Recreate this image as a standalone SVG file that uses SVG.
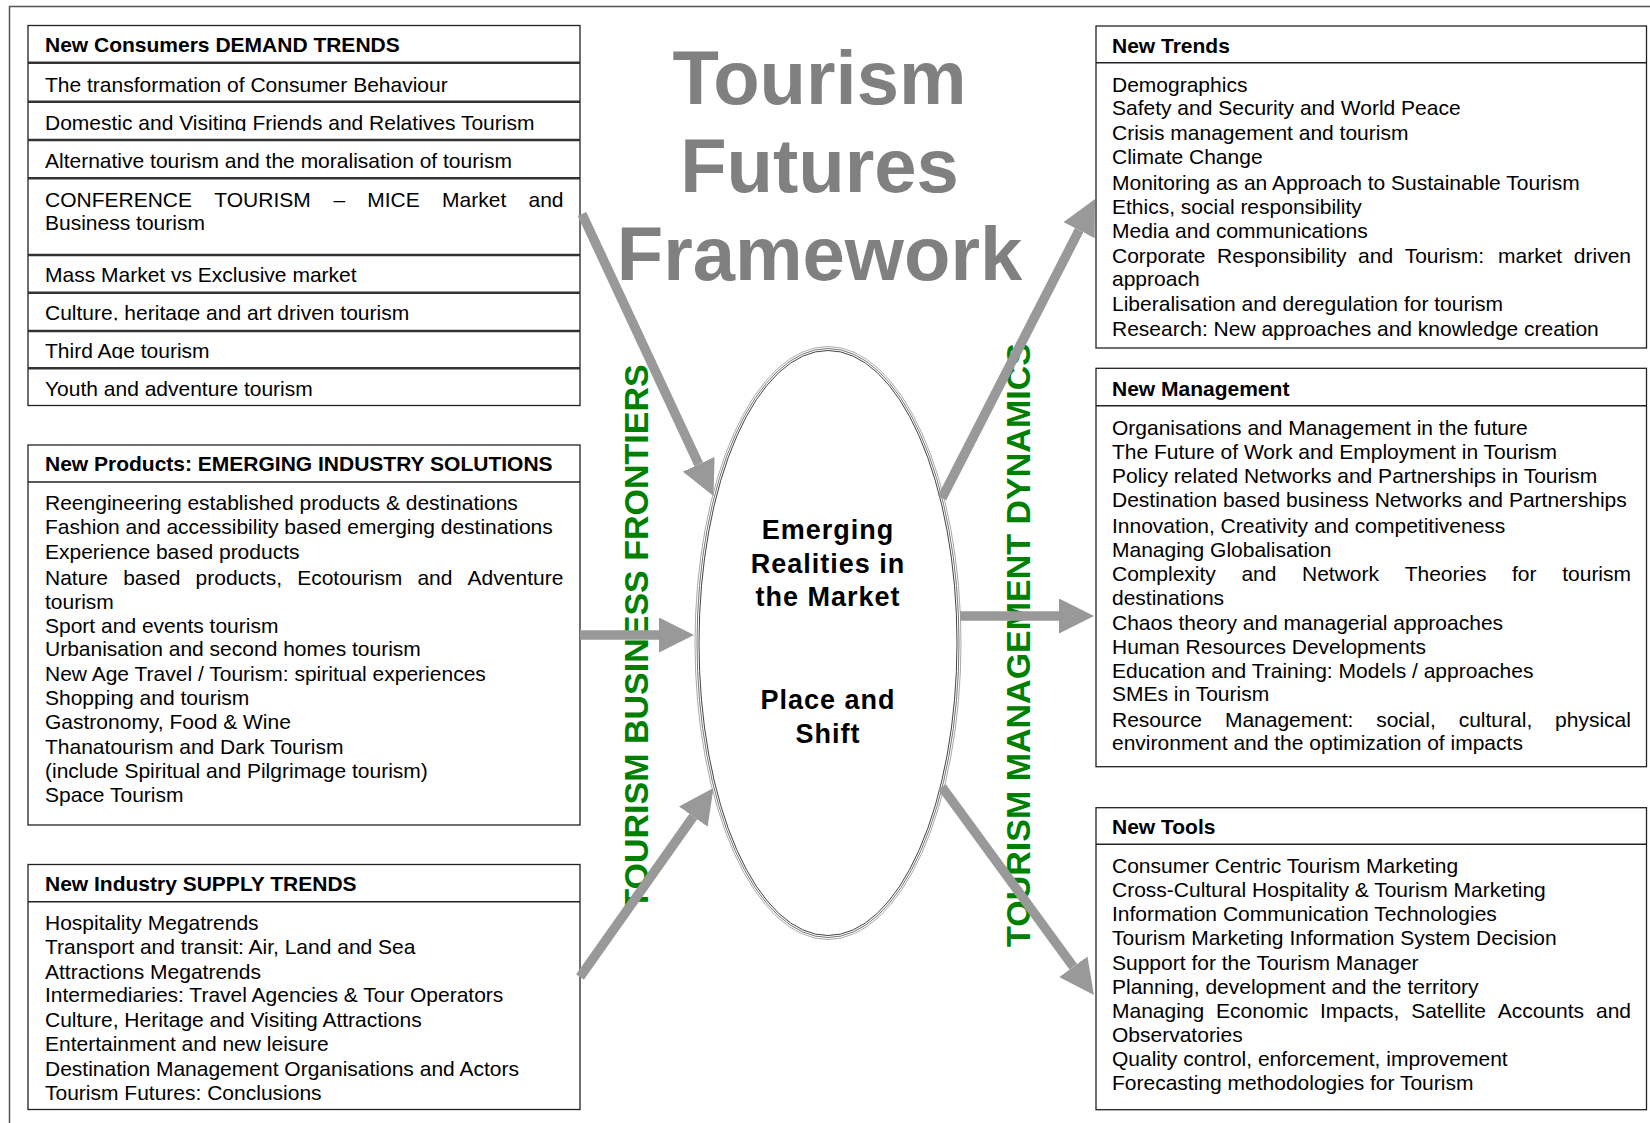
<svg xmlns="http://www.w3.org/2000/svg" width="1650" height="1123" viewBox="0 0 1650 1123">
<style>
.box{fill:#fff;stroke:#222;stroke-width:1.3}
.sep{stroke:#222;stroke-width:1.5}
.sep2{stroke:#333;stroke-width:2.4}
.hd{font-family:"Liberation Sans",Arial,sans-serif;font-weight:bold;font-size:21px;fill:#000}
.tx{font-family:"Liberation Sans",Arial,sans-serif;font-size:21px;fill:#000}
.title{font-family:"Liberation Sans",Arial,sans-serif;font-weight:bold;font-size:76px;fill:#808080;text-anchor:middle}
.green{font-family:"Liberation Sans",Arial,sans-serif;font-weight:bold;font-size:34px;fill:#008000;text-anchor:middle}
.core{font-family:"Liberation Sans",Arial,sans-serif;font-weight:bold;font-size:27px;letter-spacing:1px;fill:#000;text-anchor:middle}
.arr{stroke:#999;stroke-width:9.5;fill:none}
</style>
<defs>
<marker id="ah" markerUnits="userSpaceOnUse" markerWidth="35" markerHeight="35" viewBox="0 0 35 35" refX="0" refY="17.5" orient="auto">
<path d="M0,0 L35,17.5 L0,35 z" fill="#999"/>
</marker>
<clipPath id="c2"><rect x="28" y="102" width="552" height="29"/></clipPath>
<clipPath id="c6"><rect x="28" y="293" width="552" height="27.5"/></clipPath>
<clipPath id="c7"><rect x="28" y="331" width="552" height="27.8"/></clipPath>
</defs>
<rect x="0" y="0" width="1650" height="1123" fill="#fff"/>
<rect x="9.5" y="6.5" width="1700" height="1200" fill="none" stroke="#555" stroke-width="1.5"/>

<g id="title">
<text class="title" x="819.5" y="104">Tourism</text>
<text class="title" x="819.5" y="192">Futures</text>
<text class="title" x="819.5" y="280">Framework</text>
</g>

<g id="demand">
<rect class="box" x="28" y="25.5" width="552" height="380"/>
<line class="sep2" x1="28" y1="62.7" x2="580" y2="62.7"/>
<line class="sep2" x1="28" y1="101.7" x2="580" y2="101.7"/>
<line class="sep2" x1="28" y1="140" x2="580" y2="140"/>
<line class="sep2" x1="28" y1="178.3" x2="580" y2="178.3"/>
<line class="sep2" x1="28" y1="255" x2="580" y2="255"/>
<line class="sep2" x1="28" y1="292.7" x2="580" y2="292.7"/>
<line class="sep2" x1="28" y1="331" x2="580" y2="331"/>
<line class="sep2" x1="28" y1="368.3" x2="580" y2="368.3"/>
<text class="hd" x="45" y="52">New Consumers DEMAND TRENDS</text>
<text class="tx" x="45" y="91.5">The transformation of Consumer Behaviour</text>
<text class="tx" x="45" y="130" clip-path="url(#c2)">Domestic and Visiting Friends and Relatives Tourism</text>
<text class="tx" x="45" y="168.3">Alternative tourism and the moralisation of tourism</text>
<text class="tx" y="206.5"><tspan x="45">CONFERENCE</tspan><tspan x="214.3">TOURISM</tspan><tspan x="333.4">–</tspan><tspan x="367.3">MICE</tspan><tspan x="442.1">Market</tspan><tspan x="528.5">and</tspan></text>
<text class="tx" x="45" y="230">Business tourism</text>
<text class="tx" x="45" y="281.7">Mass Market vs Exclusive market</text>
<text class="tx" x="45" y="320" clip-path="url(#c6)">Culture, heritage and art driven tourism</text>
<text class="tx" x="45" y="357.5" clip-path="url(#c7)">Third Age tourism</text>
<text class="tx" x="45" y="396">Youth and adventure tourism</text>
</g>

<g id="products">
<rect class="box" x="28" y="445" width="552" height="380"/>
<line class="sep" x1="28" y1="482" x2="580" y2="482"/>
<text class="hd" x="45" y="470.5">New Products: EMERGING INDUSTRY SOLUTIONS</text>
<text class="tx" x="45" y="510.3">Reengineering established products &amp; destinations</text>
<text class="tx" x="45" y="534.3">Fashion and accessibility based emerging destinations</text>
<text class="tx" x="45" y="558.7">Experience based products</text>
<text class="tx" y="584.7"><tspan x="45">Nature</tspan><tspan x="123.2">based</tspan><tspan x="195.6">products,</tspan><tspan x="297.2">Ecotourism</tspan><tspan x="417.4">and</tspan><tspan x="467.6">Adventure</tspan></text>
<text class="tx" x="45" y="608.7">tourism</text>
<text class="tx" x="45" y="632.7">Sport and events tourism</text>
<text class="tx" x="45" y="656.3">Urbanisation and second homes tourism</text>
<text class="tx" x="45" y="681">New Age Travel / Tourism: spiritual experiences</text>
<text class="tx" x="45" y="704.7">Shopping and tourism</text>
<text class="tx" x="45" y="729.3">Gastronomy, Food &amp; Wine</text>
<text class="tx" x="45" y="754.3">Thanatourism and Dark Tourism</text>
<text class="tx" x="45" y="777.7">(include Spiritual and Pilgrimage tourism)</text>
<text class="tx" x="45" y="802">Space Tourism</text>
</g>

<g id="supply">
<rect class="box" x="28" y="864.5" width="552" height="245"/>
<line class="sep" x1="28" y1="901.7" x2="580" y2="901.7"/>
<text class="hd" x="45" y="890.8">New Industry SUPPLY TRENDS</text>
<text class="tx" x="45" y="929.7">Hospitality Megatrends</text>
<text class="tx" x="45" y="953.7">Transport and transit: Air, Land and Sea</text>
<text class="tx" x="45" y="978.7">Attractions Megatrends</text>
<text class="tx" x="45" y="1002">Intermediaries: Travel Agencies &amp; Tour Operators</text>
<text class="tx" x="45" y="1027">Culture, Heritage and Visiting Attractions</text>
<text class="tx" x="45" y="1051">Entertainment and new leisure</text>
<text class="tx" x="45" y="1076.3">Destination Management Organisations and Actors</text>
<text class="tx" x="45" y="1100.3">Tourism Futures: Conclusions</text>
</g>

<g id="trends">
<rect class="box" x="1096" y="26" width="550.5" height="322"/>
<line class="sep" x1="1096" y1="62.7" x2="1646.5" y2="62.7"/>
<text class="hd" x="1112" y="52.5">New Trends</text>
<text class="tx" x="1112" y="92">Demographics</text>
<text class="tx" x="1112" y="115.3">Safety and Security and World Peace</text>
<text class="tx" x="1112" y="139.7">Crisis management and tourism</text>
<text class="tx" x="1112" y="163.7">Climate Change</text>
<text class="tx" x="1112" y="189.7">Monitoring as an Approach to Sustainable Tourism</text>
<text class="tx" x="1112" y="213.7">Ethics, social responsibility</text>
<text class="tx" x="1112" y="237.7">Media and communications</text>
<text class="tx" y="263"><tspan x="1112">Corporate</tspan><tspan x="1217">Responsibility</tspan><tspan x="1358.1">and</tspan><tspan x="1404.7">Tourism:</tspan><tspan x="1498">market</tspan><tspan x="1573.8">driven</tspan></text>
<text class="tx" x="1112" y="286.3">approach</text>
<text class="tx" x="1112" y="311">Liberalisation and deregulation for tourism</text>
<text class="tx" x="1112" y="336.3">Research: New approaches and knowledge creation</text>
</g>

<g id="management">
<rect class="box" x="1096" y="368.3" width="550.5" height="398.4"/>
<line class="sep" x1="1096" y1="405.7" x2="1646.5" y2="405.7"/>
<text class="hd" x="1112" y="395.8">New Management</text>
<text class="tx" x="1112" y="435.3">Organisations and Management in the future</text>
<text class="tx" x="1112" y="458.7">The Future of Work and Employment in Tourism</text>
<text class="tx" x="1112" y="483">Policy related Networks and Partnerships in Tourism</text>
<text class="tx" x="1112" y="507">Destination based business Networks and Partnerships</text>
<text class="tx" x="1112" y="532.7">Innovation, Creativity and competitiveness</text>
<text class="tx" x="1112" y="557">Managing Globalisation</text>
<text class="tx" y="581"><tspan x="1112">Complexity</tspan><tspan x="1241.4">and</tspan><tspan x="1302">Network</tspan><tspan x="1404.7">Theories</tspan><tspan x="1512">for</tspan><tspan x="1562.2">tourism</tspan></text>
<text class="tx" x="1112" y="605.3">destinations</text>
<text class="tx" x="1112" y="629.7">Chaos theory and managerial approaches</text>
<text class="tx" x="1112" y="653.7">Human Resources Developments</text>
<text class="tx" x="1112" y="677.7">Education and Training: Models / approaches</text>
<text class="tx" x="1112" y="701.3">SMEs in Tourism</text>
<text class="tx" y="727"><tspan x="1112">Resource</tspan><tspan x="1224.9">Management:</tspan><tspan x="1376.2">social,</tspan><tspan x="1458.7">cultural,</tspan><tspan x="1555.1">physical</tspan></text>
<text class="tx" x="1112" y="750.3">environment and the optimization of impacts</text>
</g>

<g id="tools">
<rect class="box" x="1096" y="807.7" width="550.5" height="302"/>
<line class="sep" x1="1096" y1="844.3" x2="1646.5" y2="844.3"/>
<text class="hd" x="1112" y="834.2">New Tools</text>
<text class="tx" x="1112" y="873">Consumer Centric Tourism Marketing</text>
<text class="tx" x="1112" y="897">Cross-Cultural Hospitality &amp; Tourism Marketing</text>
<text class="tx" x="1112" y="921.3">Information Communication Technologies</text>
<text class="tx" x="1112" y="945.3">Tourism Marketing Information System Decision</text>
<text class="tx" x="1112" y="969.7">Support for the Tourism Manager</text>
<text class="tx" x="1112" y="993.7">Planning, development and the territory</text>
<text class="tx" y="1018"><tspan x="1112">Managing</tspan><tspan x="1216">Economic</tspan><tspan x="1320">Impacts,</tspan><tspan x="1411.2">Satellite</tspan><tspan x="1497.7">Accounts</tspan><tspan x="1596">and</tspan></text>
<text class="tx" x="1112" y="1042">Observatories</text>
<text class="tx" x="1112" y="1066.3">Quality control, enforcement, improvement</text>
<text class="tx" x="1112" y="1090.3">Forecasting methodologies for Tourism</text>
</g>

<g id="core">
<ellipse cx="828" cy="643" rx="133" ry="296.5" fill="#fff" stroke="#aaa" stroke-width="1"/>
<ellipse cx="828" cy="643" rx="131" ry="294.5" fill="none" stroke="#777" stroke-width="1"/>
<ellipse cx="828" cy="643" rx="129" ry="292.5" fill="none" stroke="#444" stroke-width="1"/>
<text class="core" x="828" y="539.2">Emerging</text>
<text class="core" x="828" y="572.7">Realities in</text>
<text class="core" x="828" y="606.2">the Market</text>
<text class="core" x="828" y="709.1">Place and</text>
<text class="core" x="828" y="742.6">Shift</text>
</g>

<g id="frontiers">
<text class="green" transform="translate(648,637) rotate(-90)">TOURISM BUSINESS FRONTIERS</text>
</g>
<g id="dynamics">
<text class="green" transform="translate(1030,645) rotate(-90)">TOURISM MANAGEMENT DYNAMICS</text>
</g>

<g id="connectors">
<line class="arr" x1="582" y1="214" x2="698.7" y2="464.3" marker-end="url(#ah)"/>
<line class="arr" x1="580" y1="635" x2="659" y2="635" marker-end="url(#ah)"/>
<line class="arr" x1="580" y1="977" x2="693.3" y2="816.6" marker-end="url(#ah)"/>
<line class="arr" x1="942" y1="498" x2="1079.1" y2="230.2" marker-end="url(#ah)"/>
<line class="arr" x1="960" y1="616" x2="1059" y2="616" marker-end="url(#ah)"/>
<line class="arr" x1="942" y1="787" x2="1073.3" y2="966.7" marker-end="url(#ah)"/>
</g>
</svg>
